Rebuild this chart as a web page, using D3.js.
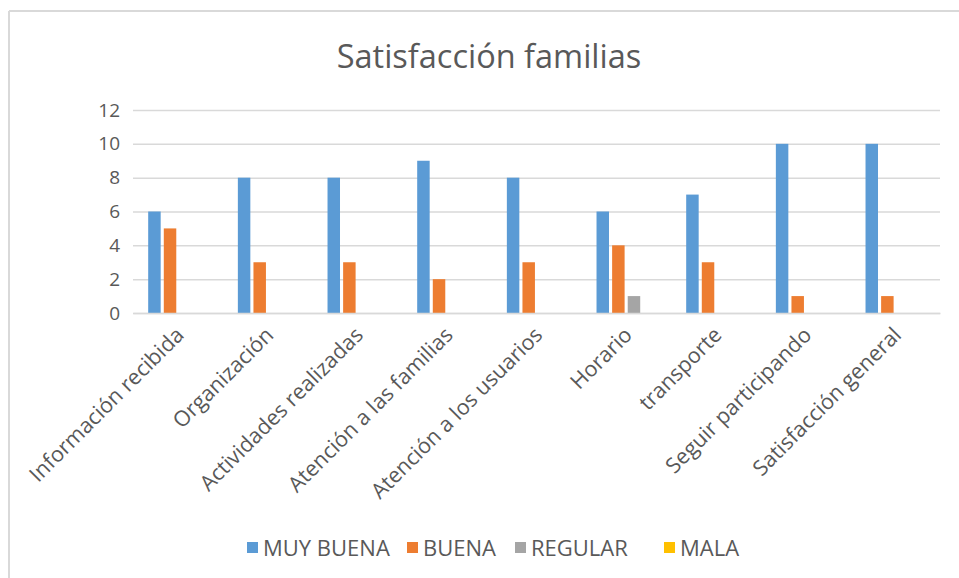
<!DOCTYPE html>
<html>
<head>
<meta charset="utf-8">
<script src="https://cdn.jsdelivr.net/npm/d3@7/dist/d3.min.js"></script>
<style>
  html, body { margin: 0; padding: 0; background: #fff; }
  svg { display: block; }
  text { font-family: "Open Sans", "Lato", sans-serif; }
</style>
</head>
<body>
<svg id="chart" width="959" height="578"></svg>
<script>
const categories = ["Información recibida", "Organización", "Actividades realizadas", "Atención a las familias", "Atención a los usuarios", "Horario", "transporte", "Seguir participando", "Satisfacción general"];
const seriesNames = ["MUY BUENA", "BUENA", "REGULAR", "MALA"];
const muyBuena = [6, 8, 8, 9, 8, 6, 7, 10, 10];
const buena = [5, 3, 3, 2, 3, 4, 3, 1, 1];
const regular = [0, 0, 0, 0, 0, 1, 0, 0, 0];
const mala = [0, 0, 0, 0, 0, 0, 0, 0, 0];
const yTicks = [0, 2, 4, 6, 8, 10, 12];
const colors = ["#5B9BD5", "#ED7D31", "#A5A5A5", "#FFC000"];

const seriesValues = [muyBuena, buena, regular, mala];
const svg = d3.select("#chart");

// frame
svg.append("line").attr("x1", 9).attr("x2", 959).attr("y1", 11).attr("y2", 11).attr("stroke", "#D9D9D9").attr("stroke-width", 2);
svg.append("line").attr("x1", 9).attr("x2", 9).attr("y1", 11).attr("y2", 578).attr("stroke", "#D9D9D9").attr("stroke-width", 2);

const pLeft = 133, pRight = 940, pTop = 110, pBottom = 313;
const x0 = d3.scaleBand().domain(categories).range([pLeft, pRight]).padding(0);
const y = d3.scaleLinear().domain([0, 12]).range([pBottom, pTop]);
const x1 = d3.scaleBand().domain(seriesNames).range([0, x0.bandwidth() * 0.696]).paddingInner(0.2).paddingOuter(0.1);
const groupOffset = (x0.bandwidth() - x1.range()[1]) / 2;

// title
svg.append("text").attr("x", 489).attr("y", 68).attr("text-anchor", "middle")
  .attr("font-size", 32.5).attr("fill", "#595959").text("Satisfacción familias");

// gridlines
const yAxis = d3.axisLeft(y).tickValues(yTicks).tickSize(-(pRight - pLeft)).tickPadding(13);
const gy = svg.append("g").attr("transform", `translate(${pLeft},0)`).call(yAxis);
gy.select(".domain").remove();
gy.selectAll(".tick line").attr("stroke", "#D9D9D9").attr("stroke-width", 1.5);
gy.selectAll(".tick text").attr("font-size", 19).attr("fill", "#595959")
  .style("font-family", "'Open Sans', sans-serif");

// bars
const data = [];
categories.forEach((c, i) => seriesNames.forEach((s, j) => data.push({ c, s, v: seriesValues[j][i], j })));
svg.append("g").selectAll("rect").data(data.filter(d => d.v > 0)).join("rect")
  .attr("x", d => x0(d.c) + groupOffset + x1(d.s))
  .attr("y", d => y(d.v))
  .attr("width", x1.bandwidth())
  .attr("height", d => y(0) - y(d.v))
  .attr("fill", d => colors[d.j]);

// x axis
const xAxis = d3.axisBottom(x0).tickSize(0).tickPadding(0);
const gx = svg.append("g").attr("transform", `translate(0,${pBottom})`).call(xAxis);
gx.select(".domain").attr("stroke", "#D9D9D9").attr("stroke-width", 1.5);
gx.selectAll(".tick text")
  .attr("font-size", 21.5).attr("fill", "#595959")
  .style("font-family", "'Open Sans', sans-serif")
  .attr("text-anchor", "end")
  .attr("transform", "translate(2,18) rotate(-45)")
  .attr("dy", "0.35em");

// legend
const legendX = [247, 407, 515, 664];
const lg = svg.append("g");
seriesNames.forEach((s, j) => {
  lg.append("rect").attr("x", legendX[j]).attr("y", 542).attr("width", 11).attr("height", 11).attr("fill", colors[j]);
  lg.append("text").attr("x", legendX[j] + 16).attr("y", 556).attr("font-size", 22).attr("fill", "#595959").text(s);
});
</script>
</body>
</html>
